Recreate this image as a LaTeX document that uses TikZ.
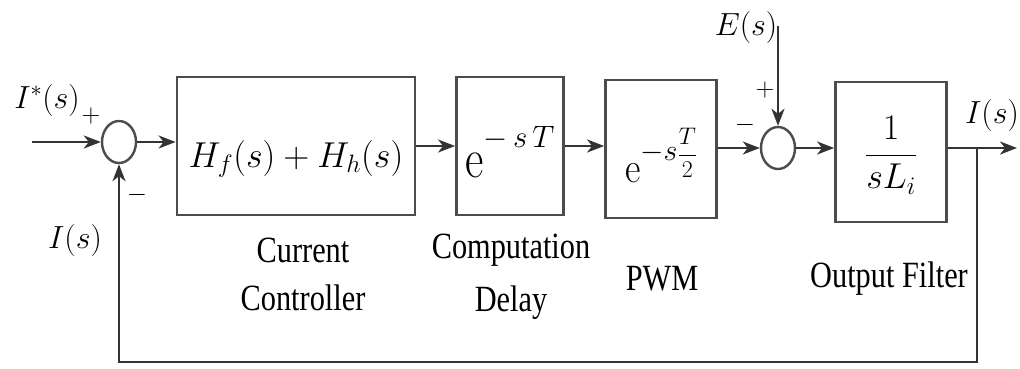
\RequirePackage{fix-cm}
\documentclass[tikz,border=0pt]{standalone}
\usepackage{fontspec}
\setmainfont{Liberation Serif}
\usetikzlibrary{arrows.meta,shapes.geometric}
\newcommand{\cme}{{\usefont{OT1}{cmr}{m}{n}e}}
\begin{document}
\begin{tikzpicture}[x=1pt,y=-1pt,
  blk/.style={draw=black!70,line width=2.8pt,rectangle,inner sep=0pt,
     minimum height=138pt,font=\fontsize{36}{40}\selectfont,text depth=0pt},
  sumj/.style={draw=black!70,line width=2.4pt,ellipse,minimum width=34pt,minimum height=42pt,inner sep=0pt},
  wire/.style={draw=black!80,line width=2.4pt},
  arr/.style={wire,-{Stealth[length=17pt,width=13pt,inset=5pt]}},
  lbl/.style={font=\fontsize{37}{48}\selectfont,align=center,inner sep=0pt},
  sig/.style={font=\fontsize{26}{28}\selectfont,inner sep=0pt},
  var/.style={font=\fontsize{32}{34}\selectfont,inner sep=0pt}]
\useasboundingbox (0,0) rectangle (1020,368);

\node[sumj] (s1) at (119,142) {};
\node[blk,minimum width=238pt,text height=42pt] (b1) at (296,146)
  {$H_f(s)+H_h(s)$};
\node[blk,minimum width=107pt,text height=62pt] (b2) at (510,146)
  {\scalebox{1.25}[1.55]{\cme}\raisebox{30pt}{\fontsize{31}{33}\selectfont$-\,s\,T$}};
\node[blk,minimum width=111pt,text height=66pt] (b3) at (661,149)
  {\scalebox{1.05}[1.2]{\cme}\raisebox{22pt}{\fontsize{30}{32}\selectfont$-s$}\raisebox{21pt}{\fontsize{24}{26}\selectfont$\displaystyle\frac{T}{2}$}};
\node[sumj] (s2) at (778,148) {};
\node[blk,minimum width=111pt,minimum height=140pt,text height=24pt] (b4) at (891,152)
  {$\displaystyle\frac{1}{sL_i}$};

\node[lbl,anchor=north] (l1) at (303,238) {\scalebox{0.82}[1]{Current}\\\scalebox{0.82}[1]{Controller}};
\node[lbl,anchor=north] (l2) at (511,234) {\scalebox{0.82}[1]{Computation}\\[5pt]\scalebox{0.82}[1]{Delay}};
\node[lbl,anchor=base] (l3) at (662,290) {\scalebox{0.82}[1]{PWM}};
\node[lbl,anchor=base] (l4) at (889,287) {\scalebox{0.82}[1]{Output Filter}};

\node[var] (istar) at (47,100) {$I^*(s)$};
\node[var] (ifb) at (75,240) {$I(s)$};
\node[var] (iout) at (992,115) {$I(s)$};
\node[var] (es) at (746,27) {$E(s)$};

\node[sig] (p1) at (91,116) {$+$};
\node[sig] (m1) at (137,195) {$-$};
\node[sig] (p2) at (765,90) {$+$};
\node[sig] (m2) at (745,125) {$-$};

\coordinate (in) at (32,142);
\coordinate (out) at (1017,148);
\coordinate (br) at (977,148);
\coordinate (fbl) at (119,362);
\coordinate (etop) at (778,26);

\draw[arr] (in) -- (s1.west);
\draw[arr] (s1.east) -- (s1.east -| b1.west);
\draw[arr] (b1.east) -- (b2.west);
\draw[arr] (b2.east) -- (b2.east -| b3.west);
\draw[arr] (b3.east |- s2.west) -- (s2.west);
\draw[arr] (s2.east) -- (s2.east -| b4.west);
\draw[arr] (b4.east |- s2.east) -- (out);
\draw[arr] (br) |- (fbl) -- (s1.south);
\draw[arr] (etop) -- (s2.north);
\end{tikzpicture}
\end{document}
